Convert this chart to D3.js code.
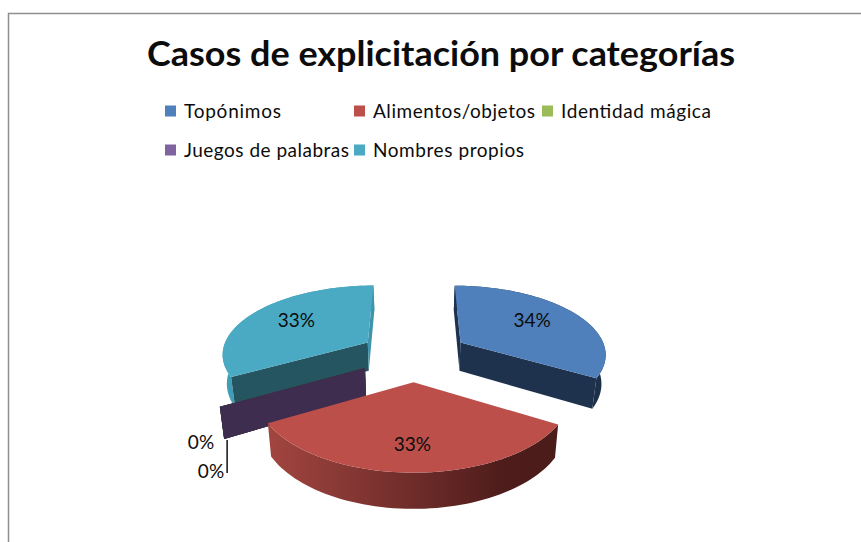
<!DOCTYPE html>
<html><head><meta charset="utf-8">
<script src="https://cdn.jsdelivr.net/npm/d3@7/dist/d3.min.js"></script>
<style>html,body{margin:0;padding:0;background:#fff}svg{display:block}text{font-family:Lato,"Open Sans",sans-serif;fill:#0c0c0c}</style>
</head><body><script>
const categories=["Topónimos","Alimentos/objetos","Identidad mágica","Juegos de palabras","Nombres propios"];
const values=[33.5,33.25,0,0,33.25];
const labels=["34%","33%","0%","0%","33%"];
const topColors=["#4f80bb","#bd4f4b","#9bbb59","#8064a2","#4aaac4"];
const wallColors=["#1e324e","#4f1e1c","#3d5022","#3e2d4e","#245561"];
const W=861,H=542;
const svg=d3.select("body").append("svg").attr("width",W).attr("height",H);
svg.append("path").attr("d",`M8.5 ${H}V13.5H${W}`).attr("fill","none").attr("stroke","#8f8f8f").attr("stroke-width",1.5);
const title="Casos de explicitación por categorías";
svg.append("text").attr("x",147).attr("y",66).attr("font-size",34).attr("font-weight",700)
 .attr("textLength",588).attr("lengthAdjust","spacingAndGlyphs").text(title);
const legendPos=[[167,118,97],[356,118,162],[544,118,150],[167,157,165],[356,157,151]];
categories.forEach((c,i)=>{
 const [x,y,w]=legendPos[i];
 svg.append("rect").attr("x",x-2).attr("y",y-12.5).attr("width",11).attr("height",11).attr("fill",topColors[i]);
 svg.append("text").attr("x",x+17).attr("y",y).attr("font-size",19).attr("textLength",w).attr("lengthAdjust","spacing").text(c);
});
// projection: perspective ellipse, lower face shrinks slightly toward the centre
const cx=414,cy=355,fx=146.5,ry=68.5,p=0.145,explode=0.375,depth=29,shrink=0.022;
const project=(X,Y,z=0)=>{const s=1/(1-p*Y),k=1-shrink*z/depth;return [cx+fx*X*s*k, cy+ry*Y*s+z*s];};
const arcs=d3.pie().sort(null).value(d=>d)(values);
const pt=(a)=>{
 const m=(a.startAngle+a.endAngle)/2;
 return (ang,rad)=>[explode*Math.sin(m)+rad*Math.sin(ang), -explode*Math.cos(m)-rad*Math.cos(ang)];
};
const defs=svg.append("defs");
const grad=(id,stops)=>{const g=defs.append("linearGradient").attr("id",id);stops.forEach(s=>g.append("stop").attr("offset",s[0]).attr("stop-color",s[1]));return `url(#${id})`;};
const rimFill=[grad("g0",[[0,"#1c3150"],[1,"#1c3048"]]),
 grad("g1",[[0,"#a2453f"],[.35,"#7e3431"],[.8,"#4f1d1b"],[1,"#4a1c1a"]]),
 wallColors[2],wallColors[3],
 grad("g4",[[0,"#3f9db5"],[1,"#3d9bb3"]])];
const line=d3.line();
const drawSlice=i=>{
 const a=arcs[i],f=pt(a),g=svg.append("g");
 const angs=d3.range(0,61).map(k=>a.startAngle+(a.endAngle-a.startAngle)*k/60);
 const top=angs.map(t=>f(t,1));
 const apex=f(0,0);
 const wall=t=>{const r=f(t,1);return [project(...apex),project(...r),project(...r,depth),project(...apex,depth)];};
 g.append("path").attr("d",line([...top.map(q=>project(...q)),...top.slice().reverse().map(q=>project(...q,depth))])+"Z").attr("fill",rimFill[i]);
 const wallsOrder=i===1?[]:[[a.startAngle,wallColors[i]],[a.endAngle,i==4?"#3f93aa":wallColors[i]]];
 wallsOrder.forEach(([t,col])=>g.append("path").attr("d",line(wall(t))+"Z").attr("fill",col));
 if(a.endAngle>a.startAngle) g.append("path").attr("d",line([project(...apex),...top.map(q=>project(...q))])+"Z").attr("fill",topColors[i]);
};
[4,0,2,3,1].forEach(drawSlice);
// labels
const labelR=[0.62,0.75,0,0,0.62];
[0,1,4].forEach(i=>{
 const a=arcs[i],[x,y]=project(...pt(a)((a.startAngle+a.endAngle)/2,labelR[i]));
 svg.append("text").attr("x",x).attr("y",y+4).attr("text-anchor","middle").attr("font-size",19).text(labels[i]);
});
const rim=project(...pt(arcs[3])(arcs[3].startAngle,1),depth);
const lx=rim[0]+3;
svg.append("line").attr("x1",lx).attr("x2",lx).attr("y1",rim[1]+1).attr("y2",rim[1]+34).attr("stroke","#111").attr("stroke-width",1.5);
svg.append("text").attr("x",lx-13).attr("y",rim[1]+10).attr("text-anchor","end").attr("font-size",19).text(labels[2]);
svg.append("text").attr("x",lx-3).attr("y",rim[1]+39).attr("text-anchor","end").attr("font-size",19).text(labels[3]);
</script></body></html>
